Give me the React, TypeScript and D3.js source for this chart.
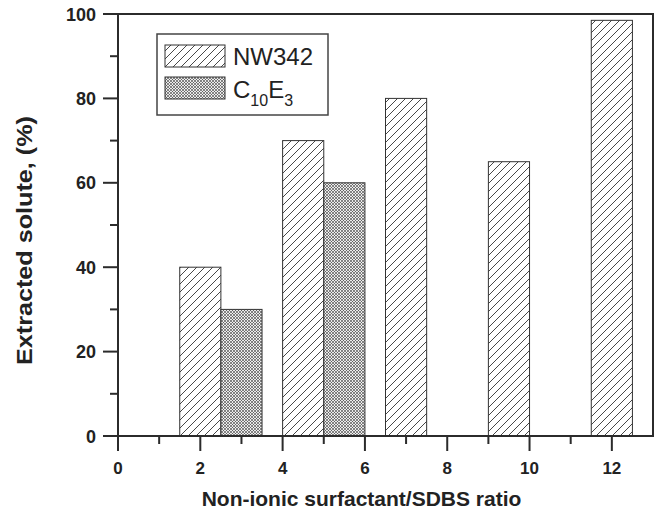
import React from "react";
import * as d3 from "d3";

const nwPositions = [2, 4.5, 7, 9.5, 12];
const nwValues = [40, 70, 80, 65, 98.5];
const c10Positions = [3, 5.5];
const c10Values = [30, 60];
const xMajorTicks = [0, 2, 4, 6, 8, 10, 12];
const xMinorTicks = [1, 3, 5, 7, 9, 11];
const yMajorTicks = [0, 20, 40, 60, 80, 100];
const yMinorTicks = [10, 30, 50, 70, 90];

const W = 658;
const H = 513;
const BAR_W = 1;
const AX = "#2b2b2b";
const FONT = "'Liberation Sans', Arial, Helvetica, sans-serif";

export default function App() {
  const x = d3.scaleLinear().domain([0, 13]).range([118, 653]);
  const y = d3.scaleLinear().domain([0, 100]).range([436, 14]);
  const [x0, x1] = x.range();
  const [y0, y1] = y.range();

  return (
    <svg
      width={W}
      height={H}
      style={{ position: "absolute", left: 0, top: 0, background: "#fff" }}
      fontFamily={FONT}
    >
      <defs>
        <pattern id="hatch" patternUnits="userSpaceOnUse" width={8} height={8}>
          <rect width={8} height={8} fill="#fff" />
          <path d="M0,8 L8,0 M-2,2 L2,-2 M6,10 L10,6" stroke="#333" strokeWidth={0.9} />
        </pattern>
        <pattern id="cross" patternUnits="userSpaceOnUse" width={3} height={3}>
          <rect width={3} height={3} fill="#ececec" />
          <path d="M0,0 L3,3 M3,0 L0,3" stroke="#4a4a4a" strokeWidth={0.65} />
        </pattern>
      </defs>

      {nwPositions.map((p, i) => (
        <rect
          key={"nw" + i}
          x={x(p - BAR_W / 2)}
          y={y(nwValues[i])}
          width={x(p + BAR_W / 2) - x(p - BAR_W / 2)}
          height={y(0) - y(nwValues[i])}
          fill="url(#hatch)"
          stroke="#333"
          strokeWidth={1}
        />
      ))}
      {c10Positions.map((p, i) => (
        <rect
          key={"c" + i}
          x={x(p - BAR_W / 2)}
          y={y(c10Values[i])}
          width={x(p + BAR_W / 2) - x(p - BAR_W / 2)}
          height={y(0) - y(c10Values[i])}
          fill="url(#cross)"
          stroke="#333"
          strokeWidth={1}
        />
      ))}

      {/* frame */}
      <path
        d={`M${x0},${y0} L${x0},${y1} L${x1},${y1} L${x1},${y0} Z`}
        fill="none"
        stroke={AX}
        strokeWidth={2}
      />

      {/* x ticks */}
      {xMajorTicks.map((t) => (
        <g key={"xm" + t}>
          <line x1={x(t)} x2={x(t)} y1={y0} y2={y0 + 15} stroke={AX} strokeWidth={2} />
          <text
            x={x(t)}
            y={474}
            textAnchor="middle"
            fontSize={17}
            fontWeight="bold"
            fill="#222"
          >
            {t}
          </text>
        </g>
      ))}
      {xMinorTicks.map((t) => (
        <line key={"xn" + t} x1={x(t)} x2={x(t)} y1={y0} y2={y0 + 8} stroke={AX} strokeWidth={2} />
      ))}

      {/* y ticks */}
      {yMajorTicks.map((t) => (
        <g key={"ym" + t}>
          <line x1={x0 - 15} x2={x0} y1={y(t)} y2={y(t)} stroke={AX} strokeWidth={2} />
          <text
            x={96}
            y={y(t) + 6.5}
            textAnchor="end"
            fontSize={18}
            fontWeight="bold"
            fill="#222"
          >
            {t}
          </text>
        </g>
      ))}
      {yMinorTicks.map((t) => (
        <line key={"yn" + t} x1={x0 - 8} x2={x0} y1={y(t)} y2={y(t)} stroke={AX} strokeWidth={2} />
      ))}

      {/* axis titles */}
      <text
        x={(x0 + x1) / 2 - 24}
        y={506}
        textAnchor="middle"
        fontSize={21}
        fontWeight="bold"
        fill="#222"
      >
        Non-ionic surfactant/SDBS ratio
      </text>
      <text
        transform={`translate(32,240.5) rotate(-90)`}
        textAnchor="middle"
        fontSize={22}
        fontWeight="bold"
        fill="#222"
        textLength={249}
        lengthAdjust="spacingAndGlyphs"
      >
        Extracted solute, (%)
      </text>

      {/* legend */}
      <rect x={157} y={34} width={171} height={81} fill="#fff" stroke="#444" strokeWidth={1.5} />
      <rect x={165} y={45} width={60} height={22} fill="url(#hatch)" stroke="#333" strokeWidth={1} />
      <rect x={165} y={77} width={60} height={22} fill="url(#cross)" stroke="#333" strokeWidth={1} />
      <text x={233} y={65} fontSize={24} fill="#222">
        NW342
      </text>
      <text x={233} y={98} fontSize={24} fill="#222">
        C
        <tspan fontSize={16} dy={8}>10</tspan>
        <tspan dy={-8}>E</tspan>
        <tspan fontSize={16} dy={8}>3</tspan>
      </text>
    </svg>
  );
}
